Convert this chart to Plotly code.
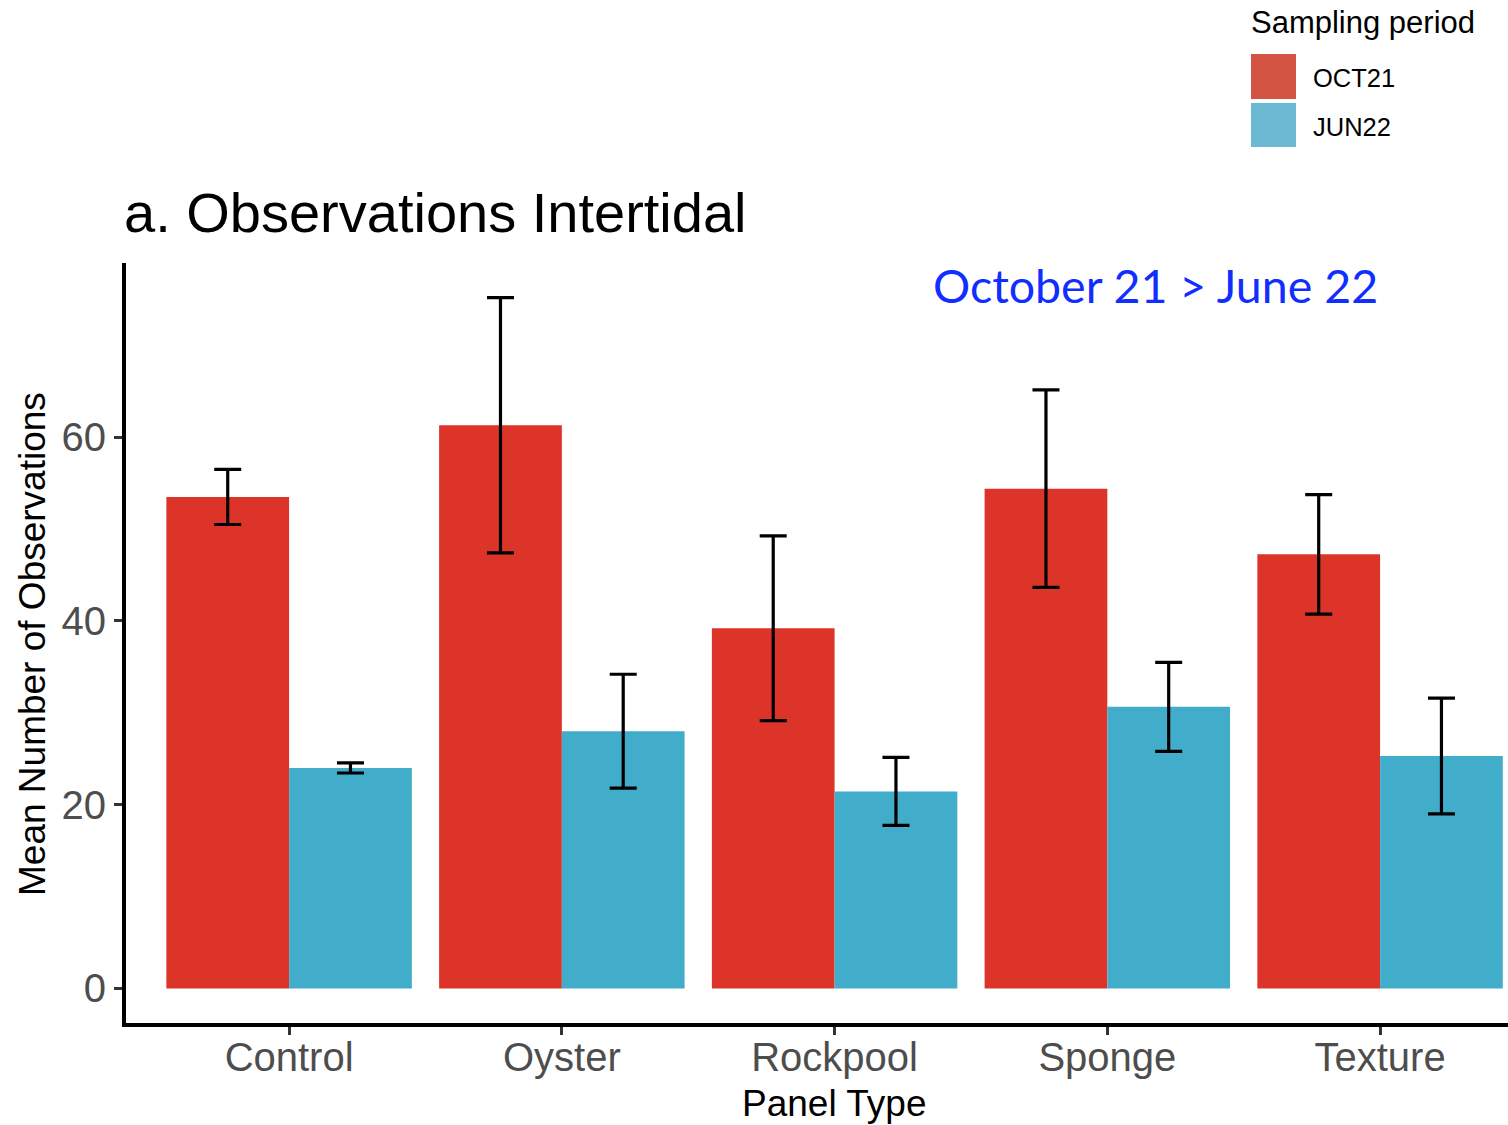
import plotly.graph_objects as go

# Panel types on the x axis
panel_types = ["Control", "Oyster", "Rockpool", "Sponge", "Texture"]

# Mean number of observations per sampling period, with standard errors
oct21_mean = [53.5, 61.3, 39.2, 54.4, 47.25]
oct21_se = [3.0, 13.9, 10.05, 10.75, 6.5]
jun22_mean = [24.0, 28.0, 21.45, 30.65, 25.3]
jun22_se = [0.55, 6.2, 3.7, 4.85, 6.3]

period_labels = ["OCT21", "JUN22"]
y_ticks = [0, 20, 40, 60]

BAR_RED = "#DD3429"
BAR_BLUE = "#42ADCA"
KEY_RED = "#D45443"
KEY_BLUE = "#6BB9D3"

W, H = 1508, 1125
L, R, T, B = 126, 0, 263, 102
PW, PH = W - L - R, H - T - B

SANS = "Liberation Sans, Arial, sans-serif"


def px_x(p):
    return (p - L) / PW


def px_y(p):
    return (H - B - p) / PH


err_style = dict(type="data", color="black", thickness=3.2, width=13.5, visible=True)

fig = go.Figure()
fig.add_trace(go.Bar(
    x=panel_types, y=oct21_mean, name=period_labels[0],
    marker=dict(color=BAR_RED, line=dict(width=0)),
    error_y=dict(array=oct21_se, **err_style),
    showlegend=False,
))
fig.add_trace(go.Bar(
    x=panel_types, y=jun22_mean, name=period_labels[1],
    marker=dict(color=BAR_BLUE, line=dict(width=0)),
    error_y=dict(array=jun22_se, **err_style),
    showlegend=False,
))

fig.update_layout(
    width=W, height=H,
    margin=dict(l=L, r=R, t=T, b=B, pad=0),
    paper_bgcolor="white", plot_bgcolor="white",
    barmode="group", bargap=0.1, bargroupgap=0,
    font=dict(family=SANS, color="black"),
)

fig.update_xaxes(
    type="category", categoryorder="array", categoryarray=panel_types,
    range=[-0.598, 4.469],
    showline=True, linecolor="black", linewidth=4,
    ticks="outside", ticklen=8, tickwidth=3, tickcolor="#333333",
    tickfont=dict(family=SANS, size=40, color="#4D4D4D"),
    ticklabelstandoff=-12,
    showgrid=False, zeroline=False,
)
fig.update_yaxes(
    range=[-3.76, 78.96],
    tickvals=y_ticks, ticktext=[str(v) for v in y_ticks],
    showline=True, linecolor="black", linewidth=4,
    ticks="outside", ticklen=8, tickwidth=3, tickcolor="#333333",
    tickfont=dict(family=SANS, size=40, color="#4D4D4D"),
    showgrid=False, zeroline=False,
)

annotations = [
    # Chart title
    dict(text="a. Observations Intertidal", x=px_x(122), y=px_y(213),
         xanchor="left", yanchor="middle",
         font=dict(family=SANS, size=56, color="black")),
    # Comparison note
    dict(text="October 21 > June 22", x=px_x(1155), y=px_y(285),
         xanchor="center", yanchor="middle",
         font=dict(family="Lato, sans-serif", size=46.5, color="#0F2EFF")),
    # Axis titles
    dict(text="Panel Type", x=px_x(834), y=px_y(1103),
         xanchor="center", yanchor="middle",
         font=dict(family=SANS, size=37, color="black")),
    dict(text="Mean Number of Observations", x=px_x(32), y=px_y(644),
         xanchor="center", yanchor="middle", textangle=-90,
         font=dict(family=SANS, size=37, color="black")),
    # Legend
    dict(text="Sampling period", x=px_x(1249), y=px_y(23),
         xanchor="left", yanchor="middle",
         font=dict(family=SANS, size=31, color="black")),
    dict(text=period_labels[0], x=px_x(1311), y=px_y(78),
         xanchor="left", yanchor="middle",
         font=dict(family=SANS, size=25.5, color="black")),
    dict(text=period_labels[1], x=px_x(1311), y=px_y(127),
         xanchor="left", yanchor="middle",
         font=dict(family=SANS, size=25.5, color="black")),
]
for a in annotations:
    a.update(xref="paper", yref="paper", showarrow=False)
fig.update_layout(annotations=annotations)

fig.update_layout(shapes=[
    dict(type="rect", xref="paper", yref="paper",
         x0=px_x(1251), x1=px_x(1296), y0=px_y(54), y1=px_y(99),
         fillcolor=KEY_RED, line=dict(width=0)),
    dict(type="rect", xref="paper", yref="paper",
         x0=px_x(1251), x1=px_x(1296), y0=px_y(103), y1=px_y(147),
         fillcolor=KEY_BLUE, line=dict(width=0)),
])

fig.write_html("out.html")
